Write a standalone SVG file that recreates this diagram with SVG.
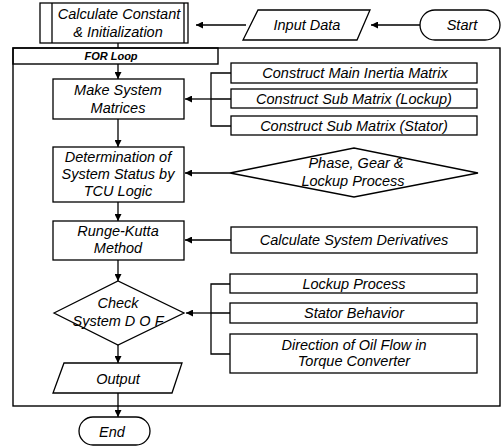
<svg xmlns="http://www.w3.org/2000/svg" width="503" height="447" viewBox="0 0 503 447">
  <defs>
    <marker id="arr" viewBox="0 0 10 10" refX="10" refY="5" markerWidth="7" markerHeight="7" markerUnits="userSpaceOnUse" orient="auto">
      <path d="M0,0 L10,5 L0,10 z" fill="#000"/>
    </marker>
    <style>
      .box { fill: #fff; stroke: #000; stroke-width: 1.3; }
      .frame { fill: none; stroke: #000; stroke-width: 1.4; }
      .ln { fill: none; stroke: #000; stroke-width: 1.3; }
      .arr { fill: none; stroke: #000; stroke-width: 1.3; marker-end: url(#arr); }
      text { font-family: "Liberation Sans", Arial, sans-serif; font-style: italic; font-size: 14.5px; fill: #000; text-anchor: middle; }
      .hdr { font-size: 11px; font-weight: bold; }
    </style>
  </defs>

  <!-- loop frame -->
  <g id="loop">
    <rect class="frame" x="13" y="48" width="487" height="358"/>
    <rect class="frame" x="13" y="48" width="205" height="16"/>
    <text class="hdr" x="111" y="60">FOR Loop</text>
  </g>

  <!-- connectors -->
  <g id="connectors">
    <line class="arr" x1="420" y1="25" x2="371" y2="25"/>
    <line class="arr" x1="246" y1="25" x2="196" y2="25"/>
    <line class="ln" x1="118" y1="43" x2="118" y2="48"/>
    <line class="arr" x1="118" y1="64" x2="118" y2="79"/>
    <line class="arr" x1="118" y1="119" x2="118" y2="147"/>
    <line class="arr" x1="118" y1="202" x2="118" y2="221"/>
    <line class="arr" x1="118" y1="260" x2="118" y2="281"/>
    <line class="arr" x1="118" y1="345" x2="118" y2="363"/>
    <line class="arr" x1="118" y1="393" x2="118" y2="417"/>
    <!-- matrix bracket -->
    <path class="ln" d="M231,73 H211 V126 H231 M211,99 H231"/>
    <line class="arr" x1="211" y1="99" x2="185" y2="99"/>
    <!-- phase diamond to status -->
    <line class="arr" x1="230" y1="173" x2="185" y2="173"/>
    <!-- derivatives -->
    <line class="arr" x1="231" y1="240" x2="185" y2="240"/>
    <!-- DOF bracket -->
    <path class="ln" d="M230,284 H211 V354 H230 M211,313 H230"/>
    <line class="arr" x1="211" y1="313" x2="186" y2="313"/>
  </g>

  <g id="init">
    <rect class="box" x="40" y="3" width="148" height="40"/>
    <line class="ln" x1="52" y1="3" x2="52" y2="43"/>
    <line class="ln" x1="184" y1="3" x2="184" y2="43"/>
    <text x="119" y="19">Calculate Constant</text>
    <text x="118" y="37">&amp; Initialization</text>
  </g>

  <g id="input">
    <polygon class="box" points="258,10 370,10 357,40 243,40"/>
    <text x="307" y="30">Input Data</text>
  </g>

  <g id="start">
    <rect class="box" x="420" y="10" width="80" height="30" rx="15"/>
    <text x="462" y="30">Start</text>
  </g>

  <g id="make-matrices">
    <rect class="box" x="53" y="79" width="131" height="40"/>
    <text x="118" y="95">Make System</text>
    <text x="118" y="113">Matrices</text>
  </g>

  <g id="main-inertia">
    <rect class="box" x="231" y="63" width="246" height="20"/>
    <text x="355" y="78">Construct Main Inertia Matrix</text>
  </g>
  <g id="sub-lockup">
    <rect class="box" x="231" y="89" width="246" height="19"/>
    <text x="354" y="104">Construct Sub Matrix (Lockup)</text>
  </g>
  <g id="sub-stator">
    <rect class="box" x="231" y="116" width="246" height="19"/>
    <text x="354" y="131">Construct Sub Matrix (Stator)</text>
  </g>

  <g id="status">
    <rect class="box" x="53" y="147" width="131" height="55"/>
    <text x="118" y="162">Determination of</text>
    <text x="118" y="179">System Status by</text>
    <text x="118" y="196">TCU Logic</text>
  </g>

  <g id="phase">
    <polygon class="box" points="230,173 354,148 478,173 354,197"/>
    <text x="356" y="168">Phase, Gear &amp;</text>
    <text x="353" y="186">Lockup Process</text>
  </g>

  <g id="runge-kutta">
    <rect class="box" x="53" y="221" width="131" height="39"/>
    <text x="118" y="236">Runge-Kutta</text>
    <text x="118" y="253">Method</text>
  </g>

  <g id="derivatives">
    <rect class="box" x="231" y="227" width="246" height="26"/>
    <text x="354" y="245">Calculate System Derivatives</text>
  </g>

  <g id="check-dof">
    <polygon class="box" points="54,313 118,281 184,313 118,345"/>
    <text x="118" y="308">Check</text>
    <text x="118" y="326">System D O F</text>
  </g>

  <g id="lockup">
    <rect class="box" x="230" y="274" width="247" height="19"/>
    <text x="354" y="289">Lockup Process</text>
  </g>
  <g id="stator">
    <rect class="box" x="230" y="303" width="247" height="20"/>
    <text x="354" y="318">Stator Behavior</text>
  </g>
  <g id="oil-flow">
    <rect class="box" x="230" y="334" width="247" height="39"/>
    <text x="354" y="350">Direction of Oil Flow in</text>
    <text x="354" y="366">Torque Converter</text>
  </g>

  <g id="output">
    <polygon class="box" points="64,363 182,363 172,393 53,393"/>
    <text x="118" y="384">Output</text>
  </g>

  <g id="end">
    <rect class="box" x="79" y="417" width="71" height="28" rx="14"/>
    <text x="112" y="437">End</text>
  </g>
</svg>
